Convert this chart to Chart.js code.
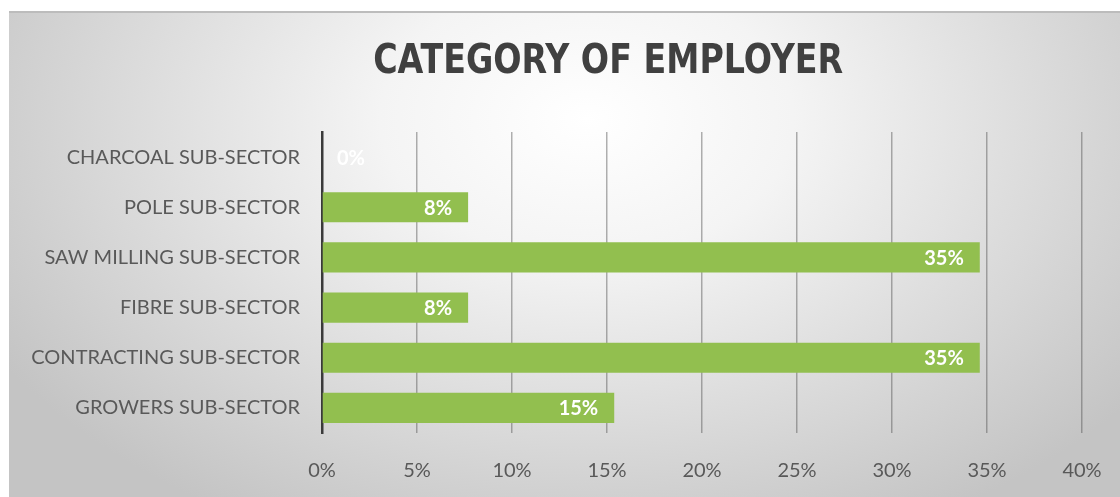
<!DOCTYPE html>
<html>
<head>
<meta charset="utf-8">
<title>Category of employer</title>
<script src="https://cdn.jsdelivr.net/npm/chart.js@4.4.1/dist/chart.umd.min.js"></script>
<style>
  html, body { margin: 0; padding: 0; background: #ffffff; }
  #wrap { position: relative; width: 1120px; height: 497px; overflow: hidden; }
  #panel {
    position: absolute; left: 9px; top: 11px; right: 0; bottom: 0;
    border-top: 2px solid #bcbcbc;
    background: radial-gradient(ellipse 62% 95% at 52% 22%, #ffffff 0%, #f4f4f4 30%, #dcdcdc 65%, #c4c4c4 100%);
  }
  canvas { position: absolute; left: 0; top: 0; }
</style>
</head>
<body>
<div id="wrap">
  <div id="panel"></div>
  <canvas id="chart" width="1120" height="497"></canvas>
</div>
<script>
// Employment share by sub-sector (percent of respondents)
const categories = [
  'CHARCOAL SUB-SECTOR',
  'POLE SUB-SECTOR',
  'SAW MILLING SUB-SECTOR',
  'FIBRE SUB-SECTOR',
  'CONTRACTING SUB-SECTOR',
  'GROWERS SUB-SECTOR'
];
const shares = [0, 7.69, 34.62, 7.69, 34.62, 15.38];
const axisMin = 0;
const axisMax = 40;
const axisStep = 5;
const chartTitle = 'CATEGORY OF EMPLOYER';

const LABEL_FONT = "Lato, 'Open Sans', sans-serif";
const TITLE_FONT = "'DejaVu Sans Condensed', 'DejaVu Sans', sans-serif";

// Chart title, drawn above the plot and fitted to a fixed width
const titlePlugin = {
  id: 'bigTitle',
  afterDraw(chart) {
    const ctx = chart.ctx;
    ctx.save();
    ctx.font = "bold 40px " + TITLE_FONT;
    const w = ctx.measureText(chartTitle).width;
    const target = 470;
    ctx.translate(chart.width * 0.543, 63);
    ctx.scale(target / w, 1);
    ctx.fillStyle = '#404040';
    ctx.textAlign = 'center';
    ctx.textBaseline = 'middle';
    ctx.fillText(chartTitle, 0, 0);
    ctx.restore();
  }
};

// Percentage labels at the inner end of each bar
const valueLabels = {
  id: 'valueLabels',
  afterDraw(chart) {
    const ctx = chart.ctx;
    const meta = chart.getDatasetMeta(0);
    ctx.save();
    ctx.font = "bold 20px " + LABEL_FONT;
    ctx.fillStyle = '#ffffff';
    ctx.textBaseline = 'middle';
    meta.data.forEach((bar, i) => {
      const text = Math.round(shares[i]) + '%';
      const w = ctx.measureText(text).width;
      const len = bar.x - bar.base;
      if (len > w + 30) {
        ctx.textAlign = 'right';
        ctx.fillText(text, bar.x - 16, bar.y + 1);
      } else {
        ctx.textAlign = 'left';
        ctx.fillText(text, bar.base + 15, bar.y + 1);
      }
    });
    ctx.restore();
  }
};

new Chart(document.getElementById('chart'), {
  type: 'bar',
  data: {
    labels: categories,
    datasets: [{
      data: shares,
      backgroundColor: '#92bf4f',
      borderWidth: 0,
      barPercentage: 0.6,
      categoryPercentage: 1.0
    }]
  },
  options: {
    indexAxis: 'y',
    responsive: false,
    animation: false,
    layout: { padding: { top: 132, right: 38, left: 0, bottom: 0 } },
    plugins: {
      legend: { display: false },
      tooltip: { enabled: false },
      title: { display: false }
    },
    scales: {
      x: {
        min: axisMin,
        max: axisMax,
        z: 1,
        afterFit(scale) {
          scale.height = 64;
          scale.paddingLeft = 0;
          scale.paddingRight = 0;
        },
        ticks: {
          stepSize: axisStep,
          padding: 26,
          color: '#595959',
          font: { family: LABEL_FONT, size: 20 },
          callback: v => v + '%'
        },
        grid: { color: 'rgba(80,80,80,0.45)', lineWidth: 1.5, drawTicks: false },
        border: { display: false }
      },
      y: {
        z: 1,
        afterFit(scale) { scale.width = 322; },
        ticks: {
          padding: 22,
          color: '#595959',
          font: { family: LABEL_FONT, size: 20 }
        },
        grid: { display: false, drawTicks: false },
        border: { display: true, color: '#3a3a3a', width: 2.5 }
      }
    }
  },
  plugins: [titlePlugin, valueLabels]
});
</script>
</body>
</html>
